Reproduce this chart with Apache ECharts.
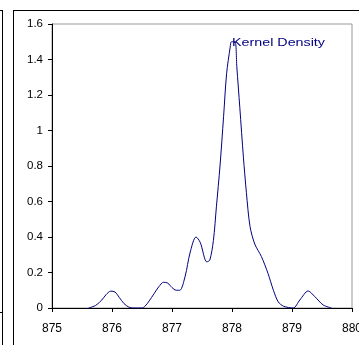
<!DOCTYPE html>
<html><head><meta charset="utf-8">
<script src="https://cdn.jsdelivr.net/npm/echarts@6/dist/echarts.min.js"></script>
<style>html,body{margin:0;padding:0;background:#fff}#c{width:359px;height:345px}</style>
</head><body><div id="c"></div>
<script>
var xValues = [875.61,875.7,875.75,875.83,875.9,875.98,876.05,876.12,876.2,876.28,876.35,876.5,876.55,876.62,876.7,876.78,876.86,876.93,877.0,877.07,877.13,877.22,877.3,877.4,877.47,877.58,877.63,877.69,877.74,877.8,877.86,877.91,877.97,877.99,878.05,878.08,878.13,878.19,878.24,878.3,878.38,878.49,878.6,878.69,878.77,878.86,879.02,879.13,879.27,879.38,879.52,879.66];
var density = [0,0.01,0.02,0.045,0.075,0.095,0.09,0.06,0.025,0.005,0,0,0.01,0.04,0.08,0.12,0.145,0.14,0.115,0.1,0.1,0.18,0.31,0.40,0.37,0.26,0.27,0.38,0.57,0.80,1.08,1.32,1.47,1.50,1.50,1.36,1.13,0.85,0.65,0.46,0.36,0.29,0.195,0.10,0.035,0.01,0,0.045,0.096,0.064,0.017,0];
var seriesName = "Kernel Density";
var xMin = 875, xMax = 880, xStep = 1;
var yMin = 0, yMax = 1.6, yStep = 0.2;

var chart = echarts.init(document.getElementById('c'));
var pts = xValues.map(function(x,i){return [x, density[i]];});
chart.setOption({
  animation:false,
  grid:{left:52,top:24,right:7,bottom:37,outerBoundsMode:'none',containLabel:false,
    show:true,borderColor:'#999',borderWidth:1,backgroundColor:'transparent'},
  xAxis:{type:'value',min:xMin,max:xMax,interval:xStep,
    axisLine:{lineStyle:{color:'#000',width:1}},
    axisTick:{show:true,inside:false,length:4,lineStyle:{color:'#000'}},
    axisLabel:{color:'#000',fontFamily:'Liberation Sans, Arial',fontSize:12,margin:15,
      showMinLabel:true,showMaxLabel:true,hideOverlap:false},
    splitLine:{show:false}},
  yAxis:{type:'value',min:yMin,max:yMax,interval:yStep,
    axisLine:{show:true,lineStyle:{color:'#000',width:1}},
    axisTick:{show:true,length:4,lineStyle:{color:'#000'}},
    axisLabel:{color:'#000',fontFamily:'Liberation Sans, Arial',fontSize:11.5,margin:9,
      formatter:function(v){return String(Math.round(v*10)/10);}},
    splitLine:{show:false}},
  graphic:[
    {type:'line',shape:{x1:2.5,y1:10,x2:2.5,y2:345},style:{stroke:'#000',lineWidth:1}},
    {type:'line',shape:{x1:0,y1:10.5,x2:3,y2:10.5},style:{stroke:'#000',lineWidth:1}},
    {type:'line',shape:{x1:0,y1:312.5,x2:3,y2:312.5},style:{stroke:'#000',lineWidth:1}},
    {type:'line',shape:{x1:13.5,y1:10,x2:13.5,y2:345},style:{stroke:'#000',lineWidth:1}},
    {type:'line',shape:{x1:13.5,y1:10.5,x2:359,y2:10.5},style:{stroke:'#000',lineWidth:1}},
    {type:'text',x:232,y:37,scaleX:1.3,style:{text:seriesName,fill:'#000080',font:'11px Liberation Sans, Arial'}}
  ],
  series:[{name:seriesName,type:'line',data:pts,showSymbol:false,smooth:0.3,
    lineStyle:{color:'#000080',width:1}}]
});
</script></body></html>
